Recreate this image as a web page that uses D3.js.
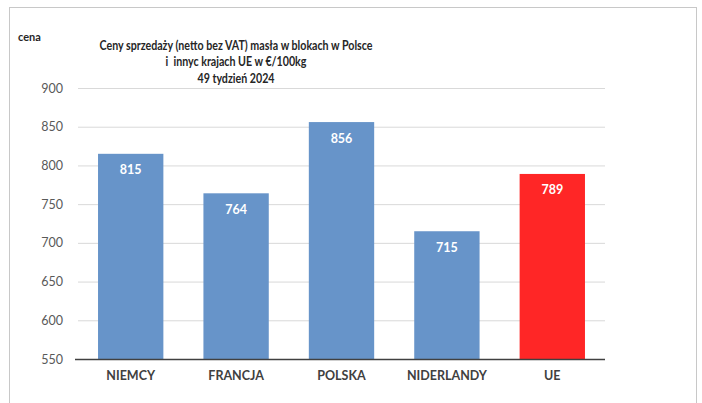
<!DOCTYPE html>
<html>
<head>
<meta charset="utf-8">
<script src="https://cdn.jsdelivr.net/npm/d3@7"></script>
<style>
  body { margin: 0; background: #fff; }
  svg { display: block; font-family: Lato, "Open Sans", sans-serif; }
</style>
</head>
<body>
<svg id="chart" width="702" height="403"></svg>
<script>
"use strict";

var countries = ["NIEMCY", "FRANCJA", "POLSKA", "NIDERLANDY", "UE"];
var prices = [815, 764, 856, 715, 789];
var barColors = ["#6794c9", "#6794c9", "#6794c9", "#6794c9", "#ff2626"];
var yTicks = [550, 600, 650, 700, 750, 800, 850, 900];
var titleLines = [
  "Ceny sprzedaży (netto bez VAT) masła w blokach w Polsce",
  "i  innyc krajach UE w €/100kg",
  "49 tydzień 2024"
];

var data = countries.map(function(c, i) {
  return { name: c, value: prices[i], color: barColors[i] };
});

var svg = d3.select("#chart");

// outer frame
svg.append("rect")
    .attr("x", 9.5)
    .attr("y", 7.5)
    .attr("width", 687)
    .attr("height", 410)
    .attr("fill", "none")
    .attr("stroke", "#c8c8c8");

var plotLeft = 78, plotRight = 605, plotTop = 88, plotBottom = 359;

var x = d3.scaleBand()
    .domain(countries)
    .range([plotLeft, plotRight])
    .paddingInner(0.38)
    .paddingOuter(0.19);

var y = d3.scaleLinear()
    .domain([550, 900])
    .range([plotBottom, plotTop]);

// gridlines
svg.append("g")
    .selectAll("line")
    .data(yTicks.slice(1))
  .enter().append("line")
    .attr("x1", plotLeft)
    .attr("x2", plotRight)
    .attr("y1", function(d) { return y(d) + 0.5; })
    .attr("y2", function(d) { return y(d) + 0.5; })
    .attr("stroke", "#d9d9d9")
    .attr("stroke-width", 1);

// y axis labels
var yAxis = d3.axisLeft(y)
    .tickValues(yTicks)
    .tickSize(0)
    .tickPadding(0);

var gy = svg.append("g")
    .attr("transform", "translate(" + (plotLeft - 15) + ",0)")
    .call(yAxis);
gy.select(".domain").remove();
gy.selectAll("text")
    .attr("fill", "#595959")
    .attr("font-size", "12.5px")
    .attr("font-family", "Lato, sans-serif");

// bars
svg.append("g")
    .selectAll("rect")
    .data(data)
  .enter().append("rect")
    .attr("x", function(d) { return x(d.name); })
    .attr("y", function(d) { return y(d.value); })
    .attr("width", x.bandwidth())
    .attr("height", function(d) { return plotBottom - y(d.value); })
    .attr("fill", function(d) { return d.color; });

// value labels
svg.append("g")
    .selectAll("text")
    .data(data)
  .enter().append("text")
    .attr("x", function(d) { return x(d.name) + x.bandwidth() / 2; })
    .attr("y", function(d) { return y(d.value) + 20.5; })
    .attr("text-anchor", "middle")
    .attr("fill", "#ffffff")
    .attr("font-weight", "bold")
    .attr("font-size", "12.5px")
    .text(function(d) { return d.value; });

// baseline
svg.append("line")
    .attr("x1", plotLeft - 3)
    .attr("x2", plotRight)
    .attr("y1", plotBottom + 0.5)
    .attr("y2", plotBottom + 0.5)
    .attr("stroke", "#404040")
    .attr("stroke-width", 1.5);

// x axis labels
var gx = svg.append("g")
    .attr("transform", "translate(0," + plotBottom + ")")
    .call(d3.axisBottom(x).tickSize(0).tickPadding(12));
gx.select(".domain").remove();
gx.selectAll("text")
    .attr("fill", "#404040")
    .attr("font-weight", "bold")
    .attr("font-size", "12.5px")
    .attr("font-family", "Lato, sans-serif");

// axis title
svg.append("text")
    .attr("x", 18)
    .attr("y", 41)
    .attr("fill", "#262626")
    .attr("font-weight", "bold")
    .attr("font-size", "11px")
    .text("cena");

// chart title (Calibri-like narrow look: squeeze horizontally)
svg.append("g")
    .attr("transform", "translate(236,0) scale(0.79,1)")
    .selectAll("text")
    .data(titleLines)
  .enter().append("text")
    .attr("x", 0)
    .attr("y", function(d, i) { return 50 + i * 16.5; })
    .attr("text-anchor", "middle")
    .style("white-space", "pre")
    .attr("fill", "#262626")
    .attr("font-weight", "bold")
    .attr("font-size", "13.5px")
    .text(function(d) { return d; });
</script>
</body>
</html>
